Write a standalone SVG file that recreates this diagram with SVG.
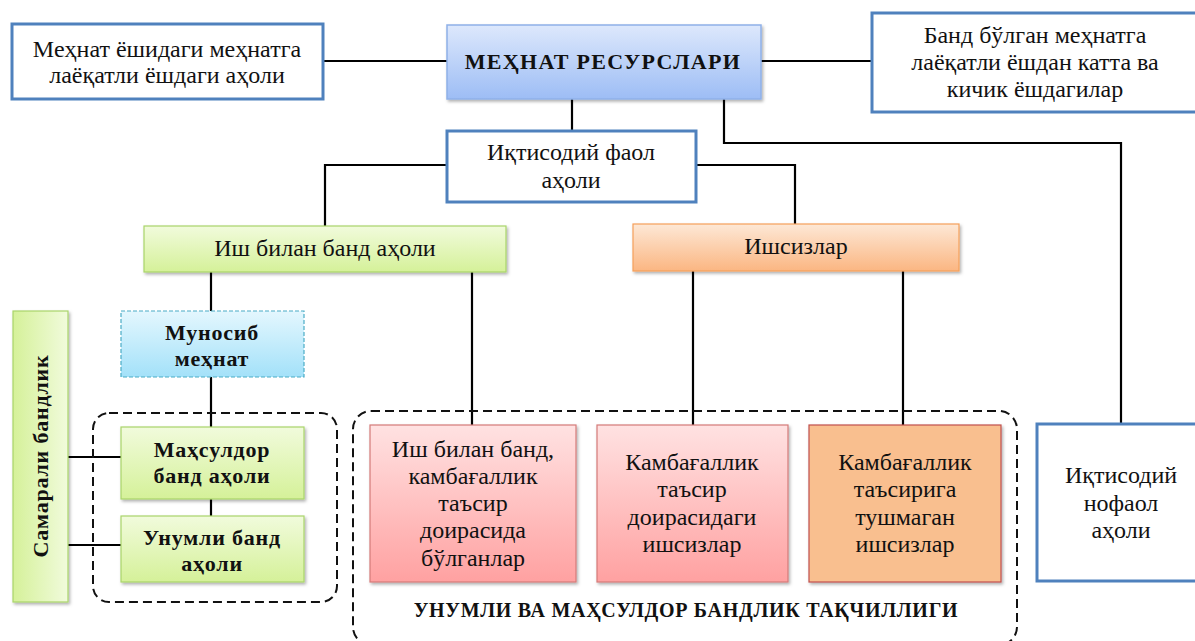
<svg xmlns="http://www.w3.org/2000/svg" width="1195" height="641" viewBox="0 0 1195 641">
<defs>
<linearGradient id="gBlue" x1="0" y1="0" x2="0" y2="1"><stop offset="0" stop-color="#dde8fc"/><stop offset="1" stop-color="#9dbdf5"/></linearGradient>
<linearGradient id="gGreen" x1="0" y1="0" x2="0" y2="1"><stop offset="0" stop-color="#f1fbdc"/><stop offset="1" stop-color="#d5f199"/></linearGradient>
<linearGradient id="gGreenH" x1="0" y1="0" x2="1" y2="0"><stop offset="0" stop-color="#d5f199"/><stop offset="1" stop-color="#f1fbdc"/></linearGradient>
<linearGradient id="gOrange" x1="0" y1="0" x2="0" y2="1"><stop offset="0" stop-color="#fde8d6"/><stop offset="1" stop-color="#fbb682"/></linearGradient>
<linearGradient id="gCyan" x1="0" y1="0" x2="0" y2="1"><stop offset="0" stop-color="#e4f7fe"/><stop offset="1" stop-color="#a3e1f9"/></linearGradient>
<linearGradient id="gPink" x1="0" y1="0" x2="0" y2="1"><stop offset="0" stop-color="#ffe2e2"/><stop offset="1" stop-color="#ffa1a1"/></linearGradient>
<filter id="sh" x="-10%" y="-10%" width="130%" height="130%"><feDropShadow dx="1.5" dy="2" stdDeviation="1.5" flood-color="#000" flood-opacity="0.3"/></filter>
<style>
text{fill:#111;text-anchor:middle}
.t{font-size:24px}
.b{font-size:22px;font-weight:bold;letter-spacing:0.8px}
.wb{fill:#fff;stroke:#4f81bd;stroke-width:3}
.ln{stroke:#000;stroke-width:2.2;fill:none}
.dash{stroke:#111;stroke-width:2;fill:none;stroke-dasharray:9 5}
</style>
</defs>

<g id="connectors">
<line class="ln" x1="323" y1="61" x2="447" y2="61"/>
<line class="ln" x1="761" y1="61" x2="872" y2="61"/>
<line class="ln" x1="572" y1="99" x2="572" y2="131"/>
<polyline class="ln" points="724,99 724,143 1121,143 1121,424"/>
<polyline class="ln" points="447,165 325,165 325,226"/>
<polyline class="ln" points="696,165 795,165 795,224"/>
<line class="ln" x1="211" y1="272" x2="211" y2="311"/>
<line class="ln" x1="472" y1="272" x2="472" y2="425"/>
<line class="ln" x1="693" y1="271" x2="693" y2="425"/>
<line class="ln" x1="903" y1="271" x2="903" y2="425"/>
<line class="ln" x1="211" y1="377" x2="211" y2="427"/>
<line class="ln" x1="211" y1="499" x2="211" y2="516"/>
<line class="ln" x1="68" y1="457" x2="121" y2="457"/>
<line class="ln" x1="68" y1="545" x2="121" y2="545"/>
</g>

<g id="groups">
<rect class="dash" x="93" y="413" width="244" height="189" rx="16"/>
<rect class="dash" x="353" y="411" width="664" height="234" rx="18"/>
</g>

<g id="n-mehnat-yosh">
<rect class="wb" x="12" y="24" width="311" height="75"/>
<text class="t" font-family="Liberation Serif" x="167" y="57">Меҳнат ёшидаги меҳнатга</text>
<text class="t" font-family="Liberation Serif" x="167" y="83">лаёқатли ёшдаги аҳоли</text>
</g>

<g id="n-resurslar">
<rect x="447" y="25" width="314" height="74" fill="url(#gBlue)" stroke="#8fb0e8" stroke-width="1.5" filter="url(#sh)"/>
<text class="b" font-family="Liberation Serif" x="603" y="69" style="letter-spacing:1.3px">МЕҲНАТ  РЕСУРСЛАРИ</text>
</g>

<g id="n-band-katta">
<rect class="wb" x="872" y="13" width="327" height="99"/>
<text class="t" font-family="Liberation Serif" x="1035" y="43">Банд бўлган меҳнатга</text>
<text class="t" font-family="Liberation Serif" x="1035" y="70">лаёқатли ёшдан катта ва</text>
<text class="t" font-family="Liberation Serif" x="1035" y="97">кичик ёшдагилар</text>
</g>

<g id="n-faol">
<rect class="wb" x="447" y="131" width="249" height="71"/>
<text class="t" font-family="Liberation Serif" x="571" y="160">Иқтисодий фаол</text>
<text class="t" font-family="Liberation Serif" x="571" y="188">аҳоли</text>
</g>

<g id="n-ish-band">
<rect x="144" y="226" width="362" height="46" fill="url(#gGreen)" stroke="#a9d46a" stroke-width="1.2" filter="url(#sh)"/>
<text class="t" font-family="Liberation Serif" x="325" y="256">Иш билан банд аҳоли</text>
</g>

<g id="n-ishsizlar">
<rect x="633" y="224" width="326" height="47" fill="url(#gOrange)" stroke="#f5a05a" stroke-width="1.2" filter="url(#sh)"/>
<text class="t" font-family="Liberation Serif" x="796" y="254">Ишсизлар</text>
</g>

<g id="n-munosib">
<rect x="121" y="311" width="183" height="66" fill="url(#gCyan)" stroke="#4bacc6" stroke-width="1.2" stroke-dasharray="4 2"/>
<text class="b" font-family="Liberation Serif" x="212" y="340">Муносиб</text>
<text class="b" font-family="Liberation Serif" x="212" y="366">меҳнат</text>
</g>

<g id="n-samarali">
<rect x="13" y="311" width="55" height="291" fill="url(#gGreenH)" stroke="#a9d46a" stroke-width="1.2" filter="url(#sh)"/>
<text class="b" font-family="Liberation Serif" transform="translate(48,456) rotate(-90)">Самарали бандлик</text>
</g>

<g id="n-mahsuldor">
<rect x="121" y="427" width="183" height="72" fill="url(#gGreen)" stroke="#a9d46a" stroke-width="1.2" filter="url(#sh)"/>
<text class="b" font-family="Liberation Serif" x="212" y="457">Маҳсулдор</text>
<text class="b" font-family="Liberation Serif" x="212" y="483">банд аҳоли</text>
</g>

<g id="n-unumli">
<rect x="121" y="516" width="183" height="66" fill="url(#gGreen)" stroke="#a9d46a" stroke-width="1.2" filter="url(#sh)"/>
<text class="b" font-family="Liberation Serif" x="212" y="545">Унумли банд</text>
<text class="b" font-family="Liberation Serif" x="212" y="571">аҳоли</text>
</g>

<g id="n-band-kambagal">
<rect x="370" y="425" width="206" height="157" fill="url(#gPink)" stroke="#d47b78" stroke-width="1.2" filter="url(#sh)"/>
<text class="t" font-family="Liberation Serif" x="473" y="457">Иш билан банд,</text>
<text class="t" font-family="Liberation Serif" x="473" y="484">камбағаллик</text>
<text class="t" font-family="Liberation Serif" x="473" y="511">таъсир</text>
<text class="t" font-family="Liberation Serif" x="473" y="538">доирасида</text>
<text class="t" font-family="Liberation Serif" x="473" y="566">бўлганлар</text>
</g>

<g id="n-ishsiz-kambagal">
<rect x="597" y="425" width="191" height="157" fill="url(#gPink)" stroke="#d47b78" stroke-width="1.2" filter="url(#sh)"/>
<text class="t" font-family="Liberation Serif" x="692" y="470">Камбағаллик</text>
<text class="t" font-family="Liberation Serif" x="692" y="497">таъсир</text>
<text class="t" font-family="Liberation Serif" x="692" y="525">доирасидаги</text>
<text class="t" font-family="Liberation Serif" x="692" y="552">ишсизлар</text>
</g>

<g id="n-ishsiz-tushmagan">
<rect x="809" y="425" width="192" height="157" fill="#f9bf8f" stroke="#c0504d" stroke-width="1.2" filter="url(#sh)"/>
<text class="t" font-family="Liberation Serif" x="905" y="470">Камбағаллик</text>
<text class="t" font-family="Liberation Serif" x="905" y="497">таъсирига</text>
<text class="t" font-family="Liberation Serif" x="905" y="525">тушмаган</text>
<text class="t" font-family="Liberation Serif" x="905" y="552">ишсизлар</text>
</g>

<g id="n-nofaol">
<rect class="wb" x="1037" y="424" width="168" height="157"/>
<text class="t" font-family="Liberation Serif" x="1121" y="483">Иқтисодий</text>
<text class="t" font-family="Liberation Serif" x="1121" y="511">нофаол</text>
<text class="t" font-family="Liberation Serif" x="1121" y="538">аҳоли</text>
</g>

<g id="label-taqchillik">
<text class="b" font-family="Liberation Serif" x="686" y="617" style="font-size:20px;letter-spacing:0.7px">УНУМЛИ ВА МАҲСУЛДОР БАНДЛИК ТАҚЧИЛЛИГИ</text>
</g>
</svg>
